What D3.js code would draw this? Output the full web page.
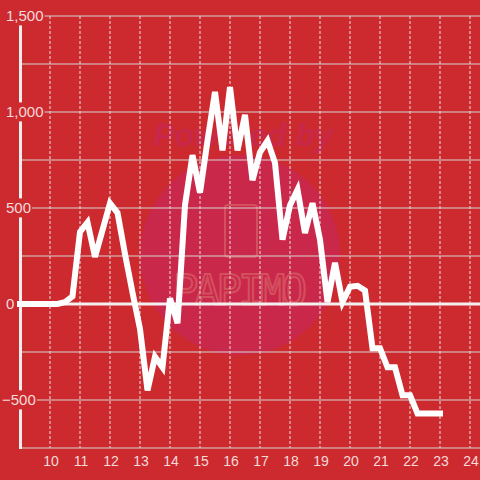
<!DOCTYPE html>
<html>
<head>
<meta charset="utf-8">
<script src="https://cdn.jsdelivr.net/npm/d3@7"></script>
<style>
  html, body { margin: 0; padding: 0; background: #cd2a2f; }
  svg { display: block; font-family: "Liberation Sans", Arial, sans-serif; }
</style>
</head>
<body>
<script>
// quarter-hour readings, 9:00 .. 23:00
var hours = [9, 9.25, 9.5, 9.75, 10, 10.25, 10.5, 10.75, 11, 11.25, 11.5, 11.75,
    12, 12.25, 12.5, 12.75, 13, 13.25, 13.5, 13.75, 14, 14.25, 14.5, 14.75,
    15, 15.25, 15.5, 15.75, 16, 16.25, 16.5, 16.75, 17, 17.25, 17.5, 17.75,
    18, 18.25, 18.5, 18.75, 19, 19.25, 19.5, 19.75, 20, 20.25, 20.5, 20.75,
    21, 21.25, 21.5, 21.75, 22, 22.25, 22.5, 22.75, 23];
var values = [0, 0, 0, 0, 0, 0, 10, 40, 375, 425, 245, 385,
    525, 475, 260, 60, -130, -450, -275, -330, 30, -100, 515, 775,
    580, 850, 1105, 800, 1130, 800, 985, 645, 790, 850, 735, 335,
    515, 595, 370, 525, 335, 10, 215, 10, 90, 95, 70, -230,
    -230, -330, -330, -475, -475, -570, -570, -570, -570];
var xTicks = [10, 11, 12, 13, 14, 15, 16, 17, 18, 19, 20, 21, 22, 23, 24];
var yGrid = [-750, -500, -250, 0, 250, 500, 750, 1000, 1250, 1500];
var yLabels = [1500, 1000, 500, 0, -500];

var W = 480, H = 480;
var x = d3.scaleLinear().domain([9, 24.3333]).range([20, 480]);
var y = d3.scaleLinear().domain([-750, 1500]).range([448, 16]);

var svg = d3.select("body").append("svg")
    .attr("width", W)
    .attr("height", H);

svg.append("rect").attr("width", W).attr("height", H).attr("fill", "#cd2a2f");

// watermark
var wm = svg.append("g");
wm.append("circle")
    .attr("cx", 240).attr("cy", 255).attr("r", 100)
    .attr("fill", "#c9284a");
wm.append("text")
    .attr("x", 243).attr("y", 146)
    .attr("text-anchor", "middle")
    .attr("font-size", 32).attr("font-weight", "bold").attr("font-style", "italic")
    .attr("fill", "#c8284a")
    .text("Powered by");
wm.append("rect")
    .attr("x", 225).attr("y", 205).attr("width", 32).attr("height", 52).attr("rx", 3)
    .attr("fill", "none").attr("stroke", "#d4505f").attr("stroke-width", 2);
wm.append("text")
    .attr("x", 173).attr("y", 305)
    .attr("textLength", 134)
    .attr("font-family", "DejaVu Sans Mono")
    .attr("font-size", 42)
    .attr("fill", "none").attr("stroke", "#d4505f").attr("stroke-width", 2)
    .text("PAPIMO");

// vertical dashed grid
svg.append("g").selectAll("line")
    .data(xTicks)
    .enter().append("line")
    .attr("x1", function (d) { return x(d); })
    .attr("x2", function (d) { return x(d); })
    .attr("y1", y(1500))
    .attr("y2", y(-750))
    .attr("stroke", "#e8e0e0")
    .attr("stroke-width", 1)
    .attr("stroke-dasharray", "3,2");

// horizontal grid
svg.append("g").selectAll("line")
    .data(yGrid)
    .enter().append("line")
    .attr("x1", 20)
    .attr("x2", W)
    .attr("y1", function (d) { return y(d); })
    .attr("y2", function (d) { return y(d); })
    .attr("stroke", function (d) { return d === 0 ? "#f4f0f0" : "#d9d4d4"; })
    .attr("stroke-width", function (d) { return d === 0 ? 3 : 1.2; });

// y axis line
svg.append("line")
    .attr("x1", 20.5).attr("x2", 20.5)
    .attr("y1", y(1500)).attr("y2", y(-750) + 1)
    .attr("stroke", "#f2eeee")
    .attr("stroke-width", 3);

// y labels with background
var fmt = d3.format(",");
var yl = svg.append("g").selectAll("g")
    .data(yLabels)
    .enter().append("g");
yl.append("text")
    .attr("x", function (d) { return d < 0 ? 2 : 6; })
    .attr("y", function (d) { return y(d); })
    .attr("dy", "0.36em")
    .attr("font-size", 15)
    .attr("fill", "#f5dada")
    .text(function (d) { return fmt(d); });
yl.each(function () {
    var g = d3.select(this);
    var b = g.select("text").node().getBBox();
    g.insert("rect", "text")
        .attr("x", b.x - 2).attr("y", b.y - 1)
        .attr("width", b.width + 3).attr("height", b.height + 2)
        .attr("fill", "#cd2a2f");
});

// x labels
svg.append("g").selectAll("text")
    .data(xTicks)
    .enter().append("text")
    .attr("x", function (d) { return x(d) + 1; })
    .attr("y", 466)
    .attr("text-anchor", "middle")
    .attr("font-size", 14)
    .attr("fill", "#f5dada")
    .text(function (d) { return d; });

// series
var line = d3.line()
    .x(function (d, i) { return x(hours[i]); })
    .y(function (d) { return y(d); });
svg.append("path")
    .datum(values)
    .attr("d", line)
    .attr("fill", "none")
    .attr("stroke", "#ffffff")
    .attr("stroke-width", 6)
    .attr("stroke-linejoin", "miter")
    .attr("stroke-linecap", "square");
</script>
</body>
</html>
